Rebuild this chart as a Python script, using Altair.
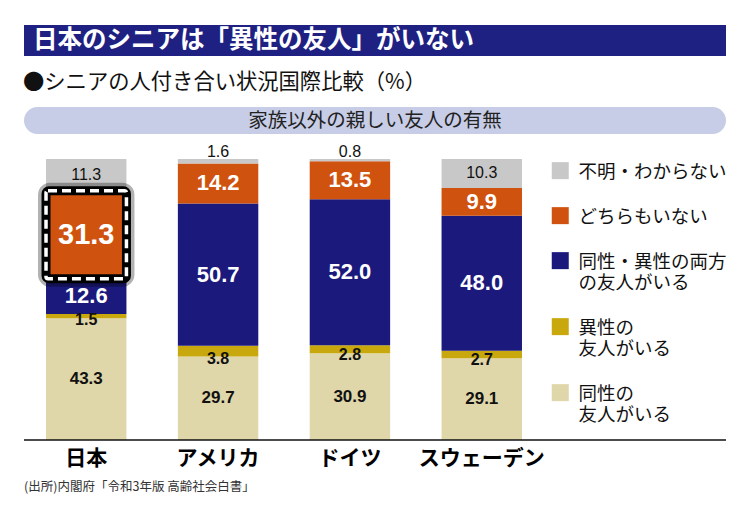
import altair as alt
import pandas as pd

# ---------------- data ----------------
COUNTRIES = ["日本", "アメリカ", "ドイツ", "スウェーデン"]
# stacking order, bottom to top
CATEGORIES = ["同性の友人がいる", "異性の友人がいる", "同性・異性の両方の友人がいる", "どちらもいない", "不明・わからない"]
SAME_SEX = [43.3, 29.7, 30.9, 29.1]
OPP_SEX = [1.5, 3.8, 2.8, 2.7]
BOTH = [12.6, 50.7, 52.0, 48.0]
NEITHER = [31.3, 14.2, 13.5, 9.9]
UNKNOWN = [11.3, 1.6, 0.8, 10.3]
SERIES = [SAME_SEX, OPP_SEX, BOTH, NEITHER, UNKNOWN]

LEGEND_ORDER = ["不明・わからない", "どちらもいない", "同性・異性の両方の友人がいる", "異性の友人がいる", "同性の友人がいる"]
LEGEND_COLORS = ["#c8c8c8", "#d0520f", "#1b197c", "#c8a80c", "#dfd6a9"]
LEGEND_LINES = {
    "同性・異性の両方の友人がいる": ["同性・異性の両方", "の友人がいる"],
    "異性の友人がいる": ["異性の", "友人がいる"],
    "同性の友人がいる": ["同性の", "友人がいる"],
}

TITLE = "日本のシニアは「異性の友人」がいない"
SUBTITLE = "●シニアの人付き合い状況国際比較（%）"
BAND_TEXT = "家族以外の親しい友人の有無"
SOURCE = "(出所)内閣府「令和3年版 高齢社会白書」"

JP = "Noto Sans CJK JP"
NUM = "Liberation Sans"
NAVY_BAR = "#1f2182"
BAND = "#c7cde6"

rows = []
for ci, c in enumerate(COUNTRIES):
    cum = 0.0
    for cat, vals in zip(CATEGORIES, SERIES):
        v = vals[ci]
        rows.append({"country": c, "category": cat, "value": v,
                     "start": cum, "end": cum + v, "mid": cum + v / 2})
        cum += v
df = pd.DataFrame(rows)

W, H = 520, 281
FULL = 702

def label_expr():
    parts = []
    for k, lines in LEGEND_LINES.items():
        arr = "[" + ",".join("'" + l + "'" for l in lines) + "]"
        parts.append("datum.label == '" + k + "' ? " + arr + " : ")
    return "".join(parts) + "datum.label"

x_enc = alt.X("country:N", sort=COUNTRIES,
              scale=alt.Scale(paddingInner=0.39, paddingOuter=0.167),
              axis=alt.Axis(title=None, domain=False, ticks=False, labelAngle=0,
                            labelFont=JP, labelFontSize=21, labelFontWeight="bold",
                            labelColor="#000", labelPadding=7))
y_scale = alt.Scale(domain=[0, 100], nice=False, zero=True)

base = alt.Chart(df)

bars = base.mark_bar().encode(
    x=x_enc,
    y=alt.Y("start:Q", scale=y_scale, axis=None),
    y2="end:Q",
    color=alt.Color("category:N",
                    scale=alt.Scale(domain=LEGEND_ORDER, range=LEGEND_COLORS),
                    legend=alt.Legend(title=None, orient="none", legendX=527, legendY=-5,
                                      symbolType="M-1,-0.13H1V1.87H-1Z", symbolSize=289,
                                      symbolStrokeWidth=0, symbolOpacity=1,
                                      labelFont=JP, labelFontSize=18.5, labelColor="#111",
                                      labelBaseline="top",
                                      labelOffset=9, rowPadding=17, labelLimit=300,
                                      padding=0, labelExpr=label_expr())),
)

hl = base.transform_filter(
    (alt.datum.country == "日本") & (alt.datum.category == "どちらもいない")
)
hl_enc = dict(x=alt.X("country:N", sort=COUNTRIES), y=alt.Y("start:Q", scale=y_scale), y2="end:Q")
glow = hl.mark_bar(fillOpacity=0, stroke="black", strokeWidth=16, strokeOpacity=0.3,
                   cornerRadius=4).encode(**hl_enc)
hl_box = hl.mark_bar(fill="#d0520f", stroke="black", strokeWidth=9,
                     cornerRadius=3).encode(**hl_enc)
hl_dash = hl.mark_bar(fillOpacity=0, stroke="white", strokeWidth=3.5,
                      strokeDash=[9, 5], cornerRadius=2).encode(**hl_enc)

def txt(filt, yfield, **kw):
    return base.transform_filter(filt).mark_text(baseline="middle", align="center", **kw).encode(
        x=alt.X("country:N", sort=COUNTRIES),
        y=alt.Y(yfield + ":Q", scale=y_scale),
        text=alt.Text("value:Q", format=".1f"),
    )

d = alt.datum
t_unk_big = txt((d.category == "不明・わからない") & (d.value >= 5), "mid",
                font=NUM, fontSize=16, color="#111")
t_unk_small = txt((d.category == "不明・わからない") & (d.value < 5), "end",
                  font=NUM, fontSize=16, color="#111", dy=-7)
t_nei = txt((d.category == "どちらもいない") & (d.country != "日本"), "mid",
            font=NUM, fontSize=22, fontWeight="bold", color="white")
t_nei_jp = txt((d.category == "どちらもいない") & (d.country == "日本"), "mid",
               font=NUM, fontSize=29, fontWeight="bold", color="white")
t_both = txt(d.category == "同性・異性の両方の友人がいる", "mid",
             font=NUM, fontSize=22, fontWeight="bold", color="white")
t_opp = txt(d.category == "異性の友人がいる", "start",
            font=NUM, fontSize=16, fontWeight="bold", color="#111", dy=2)
t_same = txt(d.category == "同性の友人がいる", "mid",
             font=NUM, fontSize=17, fontWeight="bold", color="#111")

# ---------------- decorations ----------------
deco = alt.Chart(pd.DataFrame({"k": [0]}))
title_bar = deco.mark_rect(color=NAVY_BAR).encode(
    x=alt.value(0), x2=alt.value(FULL), y=alt.value(-134), y2=alt.value(-103))
title_txt = deco.mark_text(align="left", baseline="middle", font=JP, fontSize=24.5,
                           fontWeight="bold", color="white").encode(
    x=alt.value(9), y=alt.value(-118), text=alt.value(TITLE))
sub_txt = deco.mark_text(align="left", baseline="middle", font=JP, fontSize=21.3,
                         color="#111").encode(
    x=alt.value(-1), y=alt.value(-76), text=alt.value(SUBTITLE))
band = deco.mark_rect(color=BAND, cornerRadius=14).encode(
    x=alt.value(0), x2=alt.value(FULL), y=alt.value(-52), y2=alt.value(-25))
band_txt = deco.mark_text(align="center", baseline="middle", font=JP, fontSize=19.5,
                          color="#222").encode(
    x=alt.value(FULL / 2), y=alt.value(-38.5), text=alt.value(BAND_TEXT))
baseline = deco.mark_rule(color="#111", strokeWidth=1.5).encode(
    x=alt.value(0), x2=alt.value(FULL), y=alt.value(H))
src_txt = deco.mark_text(align="left", baseline="middle", font=JP, fontSize=12.5,
                         color="#333").encode(
    x=alt.value(0), y=alt.value(328), text=alt.value(SOURCE))

chart = alt.layer(
    bars, glow, hl_box, hl_dash,
    t_unk_big, t_unk_small, t_nei, t_nei_jp, t_both, t_opp, t_same,
    title_bar, title_txt, sub_txt, band, band_txt, baseline, src_txt,
).properties(
    width=W, height=H,
    padding={"left": 16, "top": 151, "right": 198, "bottom": 68},
    autosize=alt.AutoSizeParams(type="none"),
    background="white",
).configure_view(stroke=None)

chart.save("out.html", embed_options={"renderer": "svg", "actions": False})
